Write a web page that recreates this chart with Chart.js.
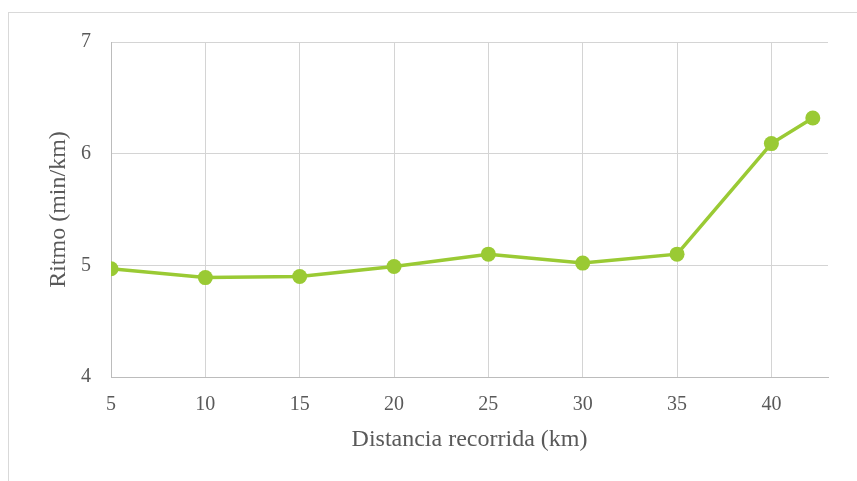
<!DOCTYPE html>
<html>
<head>
<meta charset="utf-8">
<script src="https://cdn.jsdelivr.net/npm/chart.js@4/dist/chart.umd.min.js"></script>
<style>
  body { margin: 0; background: #fff; overflow: hidden; }
  #wrap { position: relative; width: 857px; height: 481px; }
  #frame { position: absolute; left: 8px; top: 12px; width: 900px; height: 500px; border: 1px solid #d9d9d9; }
  canvas { position: absolute; left: 0; top: 0; }
</style>
</head>
<body>
<div id="wrap">
  <div id="frame"></div>
  <canvas id="chart" width="857" height="481"></canvas>
</div>
<script>
// Distance (km) and pace (min/km)
const distances = [5, 10, 15, 20, 25, 30, 35, 40, 42.195];
const ritmo = [4.97, 4.89, 4.90, 4.99, 5.10, 5.02, 5.10, 6.09, 6.32];

const xTitle = 'Distancia recorrida (km)';
const yTitle = 'Ritmo (min/km)';

const green = '#9aca34';
const textColor = '#595959';
const fontFamily = '"Liberation Serif", "DejaVu Serif", serif';

const points = distances.map((d, i) => ({ x: d, y: ritmo[i] }));

const ctx = document.getElementById('chart').getContext('2d');
new Chart(ctx, {
    type: 'scatter',
    data: {
        datasets: [{
            data: points,
            showLine: true,
            borderColor: green,
            backgroundColor: green,
            borderWidth: 3.5,
            pointRadius: 7.5,
            pointHoverRadius: 7.5,
            pointBorderWidth: 0
        }]
    },
    options: {
        responsive: false,
        animation: false,
        layout: { padding: { left: 44, top: 42, right: 29, bottom: 27 } },
        plugins: {
            legend: { display: false },
            tooltip: { enabled: false }
        },
        scales: {
            x: {
                type: 'linear',
                min: 5,
                max: 43,
                afterBuildTicks: scale => {
                    scale.ticks = scale.ticks.filter(t => t.value % 5 === 0);
                },
                afterFit: scale => { scale.height = 77; },
                ticks: {
                    stepSize: 5,
                    padding: 16,
                    color: textColor,
                    font: { family: fontFamily, size: 20 }
                },
                grid: { color: '#d4d4d4', drawTicks: false },
                border: { color: '#bcbcbc' },
                title: {
                    display: true,
                    text: xTitle,
                    color: textColor,
                    padding: 0,
                    font: { family: fontFamily, size: 24 }
                }
            },
            y: {
                min: 4,
                max: 7,
                afterFit: scale => { scale.width = 67; },
                ticks: {
                    stepSize: 1,
                    padding: 20,
                    color: textColor,
                    font: { family: fontFamily, size: 20 }
                },
                grid: { color: '#d4d4d4', drawTicks: false },
                border: { color: '#bcbcbc' },
                title: {
                    display: true,
                    text: yTitle,
                    color: textColor,
                    padding: 0,
                    font: { family: fontFamily, size: 24 }
                }
            }
        }
    }
});
</script>
</body>
</html>
